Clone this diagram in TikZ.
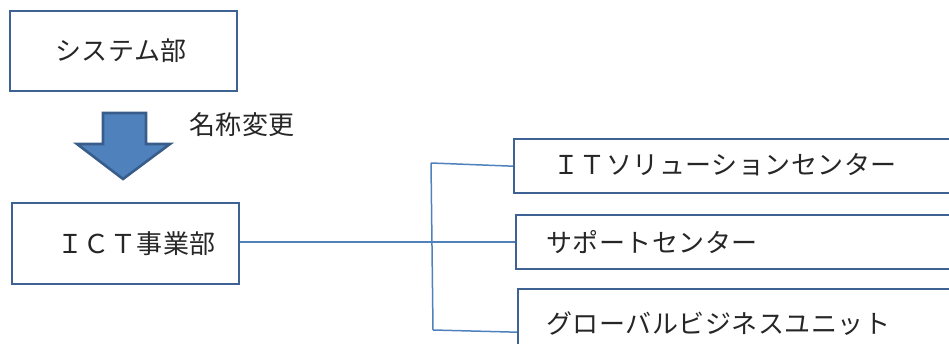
\documentclass[tikz,border=0pt]{standalone}
\usepackage{fontspec}
\newfontfamily\jp[LetterSpace=2]{Noto Sans CJK JP}
\definecolor{boxline}{HTML}{3F6294}
\definecolor{conline}{HTML}{4F81BD}
\definecolor{arrfill}{HTML}{4F81BD}
\definecolor{arrline}{HTML}{385D8A}
\begin{document}
\begin{tikzpicture}[x=1pt,y=-1pt,
  orgbox/.style={draw=boxline,line width=2.4pt,rectangle,inner sep=0pt},
  lbl/.style={font=\jp\fontsize{26}{31}\selectfont,inner sep=0pt,text=black!85},
  conn/.style={draw=conline,line width=1.5pt}]
\useasboundingbox (0,0) rectangle (949,344);
\clip (0,0) rectangle (949,344);
% left boxes
\node[orgbox,minimum width=227pt,minimum height=80pt] (sys) at (123.5,51) {};
\node[lbl] (systxt) at (121,51) {システム部};
\node[orgbox,minimum width=227pt,minimum height=81pt] (ict) at (125.5,243.5) {};
\node[lbl,anchor=west] (icttxt) at (57,244) {ＩＣＴ事業部};
% big arrow
\draw[fill=arrfill,draw=arrline,line width=2.6pt,line join=miter]
  (103,113) -- (146,113) -- (146,144) -- (170,144) -- (123,179) -- (77,144) -- (103,144) -- cycle;
\node[lbl,anchor=west] (rename) at (189,125) {名称変更};
% right boxes
\node[orgbox,minimum width=500pt,minimum height=54pt,anchor=north west] (itsc) at (513,138) {};
\node[lbl,anchor=west] (itsctxt) at (553,165) {ＩＴソリューションセンター};
\node[orgbox,minimum width=500pt,minimum height=54pt,anchor=north west] (supc) at (515,214) {};
\node[lbl,anchor=west] (supctxt) at (546,242) {サポートセンター};
\node[orgbox,minimum width=500pt,minimum height=86pt,anchor=north west] (gbu) at (517,288) {};
\node[lbl,anchor=west] (gbutxt) at (546,324) {グローバルビジネスユニット};
% connectors
\coordinate (jt) at (431,163);
\coordinate (jb) at (433,330);
\draw[conn] (ict.east |- supc.west) -- (supc.west);
\draw[conn] (jt) -- (jb);
\draw[conn] (jt) -- (itsc.west);
\draw[conn] (jb) -- (gbu.west);
\end{tikzpicture}
\end{document}
